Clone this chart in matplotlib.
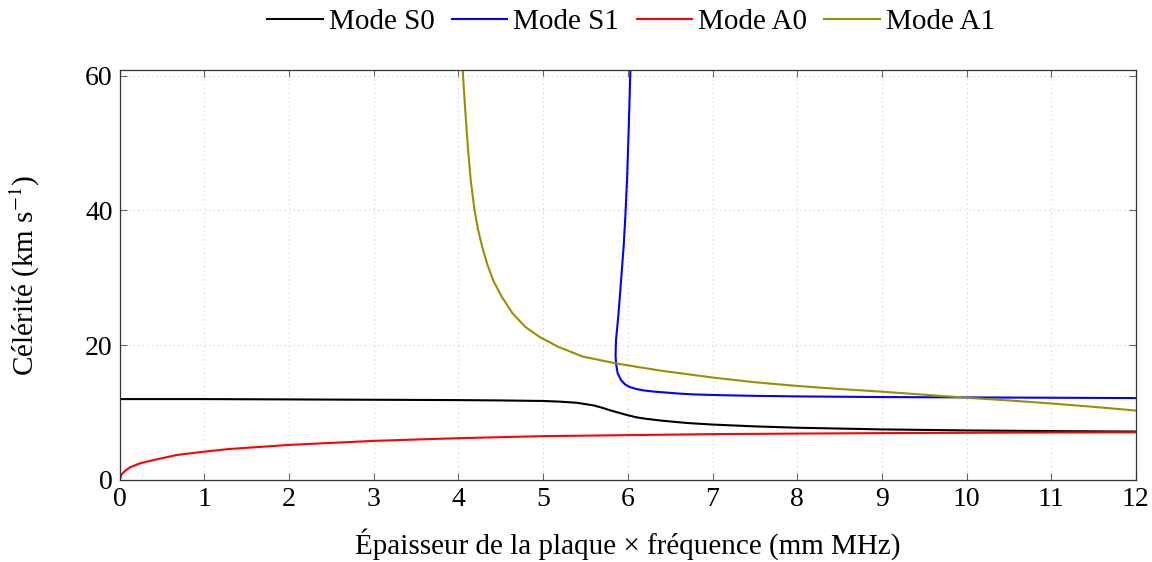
import matplotlib
matplotlib.use('Agg')
import matplotlib.pyplot as plt

plt.rcParams['font.family'] = ['Liberation Serif', 'DejaVu Serif']
plt.rcParams['mathtext.fontset'] = 'stix'

# Mode S0 (black)
s0_x = [0, 1, 2, 3, 4, 4.5, 5, 5.2, 5.4, 5.6, 5.7, 5.8, 5.9, 6.0, 6.1, 6.2,
        6.4, 6.7, 7.0, 7.5, 8, 9, 10, 11, 12]
s0_y = [12.0, 12.0, 11.95, 11.9, 11.85, 11.8, 11.72, 11.62, 11.45, 11.05,
        10.7, 10.3, 9.95, 9.6, 9.3, 9.1, 8.8, 8.45, 8.22, 7.95, 7.75, 7.5,
        7.35, 7.25, 7.18]

# Mode S1 (blue), read along the curve from the top
s1_x = [6.03, 6.01, 5.99, 5.97, 5.95, 5.92, 5.89, 5.86, 5.855, 5.86, 5.88,
        5.92, 5.97, 6.02, 6.1, 6.18, 6.3, 6.42, 6.6, 6.77, 7.09, 7.5, 8, 9,
        10, 11, 12]
s1_y = [60.7, 52.0, 44.4, 39.0, 34.6, 29.6, 24.7, 20.7, 18.5, 17.3, 15.8,
        14.8, 14.15, 13.8, 13.5, 13.3, 13.12, 13.0, 12.82, 12.7, 12.58,
        12.48, 12.4, 12.3, 12.25, 12.2, 12.15]

# Mode A0 (red)
a0_x = [0, 0.02, 0.06, 0.12, 0.24, 0.4, 0.67, 1.0, 1.3, 2, 3, 4, 5, 6, 7,
        8, 9, 10, 11, 12]
a0_y = [0, 0.8, 1.33, 1.88, 2.47, 2.96, 3.7, 4.2, 4.6, 5.2, 5.8, 6.2, 6.5,
        6.65, 6.8, 6.88, 6.95, 7.0, 7.05, 7.08]

# Mode A1 (olive), read along the curve from the top
a1_x = [4.05, 4.08, 4.11, 4.145, 4.19, 4.23, 4.28, 4.34, 4.41, 4.51, 4.64,
        4.79, 4.96, 5.18, 5.47, 5.86, 6.1, 6.4, 6.7, 7.0, 7.5, 8, 8.5, 9,
        9.5, 10, 10.5, 11, 11.5, 12]
a1_y = [60.7, 54.8, 49.5, 44.4, 40.0, 37.2, 34.6, 32.0, 29.6, 27.2, 24.7,
        22.7, 21.2, 19.75, 18.3, 17.3, 16.8, 16.2, 15.7, 15.2, 14.5, 13.95,
        13.5, 13.1, 12.65, 12.2, 11.8, 11.35, 10.85, 10.3]

x_ticks = list(range(0, 13))
y_ticks = [0, 20, 40, 60]

fig = plt.figure(figsize=(11.52, 5.62), dpi=100)
ax = fig.add_axes([0.104, 0.146, 0.882, 0.729])

lw = 1.5
ax.plot(s0_x, s0_y, color='black', lw=lw, label='Mode S0')
ax.plot(s1_x, s1_y, color='#0000ff', lw=lw, label='Mode S1')
ax.plot(a0_x, a0_y, color='#ff0000', lw=lw, label='Mode A0')
ax.plot(a1_x, a1_y, color='#998f00', lw=lw, label='Mode A1')

ax.set_xlim(0, 12)
ax.set_ylim(0, 60.8)
ax.set_xticks(x_ticks)
ax.set_yticks(y_ticks)
ax.tick_params(direction='in', top=True, right=True, length=5,
               color='#666666', labelsize=20, pad=5)
ax.grid(True, color='#cccccc', linestyle=(0, (1, 3)), linewidth=0.8)
for s in ax.spines.values():
    s.set_color('#333333')
    s.set_linewidth(0.9)

ax.set_xlabel('Épaisseur de la plaque × fréquence (mm MHz)', fontsize=21,
              labelpad=12)
ax.set_ylabel('Célérité (km s$^{-1}$)', fontsize=21)
ax.yaxis.set_label_coords(-0.077, 0.5)

fig.legend(loc='center', bbox_to_anchor=(631 / 1152, 1 - 22 / 562), ncol=4,
           frameon=False, fontsize=21, handlelength=1.9, handletextpad=0.2,
           columnspacing=0.6)

fig.savefig('out.png', dpi=100)
